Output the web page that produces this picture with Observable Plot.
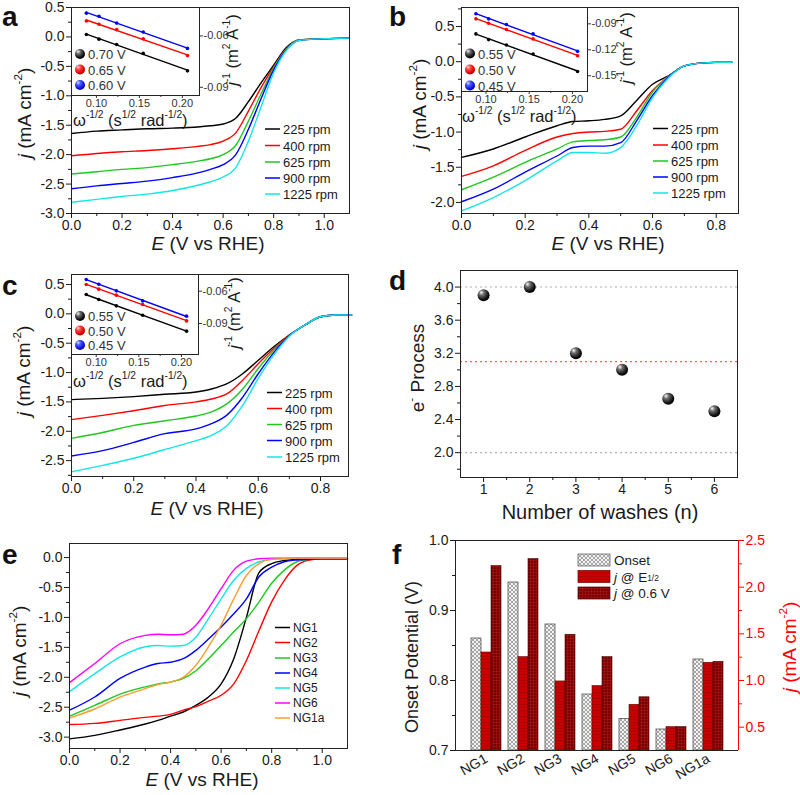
<!DOCTYPE html>
<html><head><meta charset="utf-8">
<script src="https://cdn.jsdelivr.net/npm/d3@7"></script>
<script src="https://cdn.jsdelivr.net/npm/@observablehq/plot@0.6"></script>
<style>
html,body{margin:0;padding:0;background:#fff;overflow:hidden;}
#root{position:relative;width:800px;height:795px;overflow:hidden;background:#fff;}
</style></head><body>
<svg width="0" height="0" style="position:absolute;left:0;top:0">
<defs>
<radialGradient id="ballK" cx="0.4" cy="0.35" r="0.7" fx="0.3" fy="0.25">
<stop offset="0" stop-color="#ffffff"/><stop offset="0.3" stop-color="#707070"/><stop offset="0.75" stop-color="#111"/><stop offset="1" stop-color="#000"/>
</radialGradient>
<radialGradient id="ballR" cx="0.4" cy="0.35" r="0.7" fx="0.3" fy="0.25">
<stop offset="0" stop-color="#ffe0e0"/><stop offset="0.3" stop-color="#ff5050"/><stop offset="0.75" stop-color="#e00000"/><stop offset="1" stop-color="#a00000"/>
</radialGradient>
<radialGradient id="ballB" cx="0.4" cy="0.35" r="0.7" fx="0.3" fy="0.25">
<stop offset="0" stop-color="#e0e4ff"/><stop offset="0.3" stop-color="#5060ff"/><stop offset="0.75" stop-color="#1010e0"/><stop offset="1" stop-color="#000090"/>
</radialGradient>
<pattern id="patOnset" width="4" height="4" patternUnits="userSpaceOnUse"><rect width="4" height="4" fill="#f2f2f2"/><path d="M0,0L4,4M4,0L0,4" stroke="#858585" stroke-width="0.7"/></pattern>
<pattern id="patHalf" width="3" height="3" patternUnits="userSpaceOnUse"><rect width="3" height="3" fill="#c80000"/><path d="M0,0.5H3" stroke="#a00000" stroke-width="0.6"/></pattern>
<pattern id="pat06" width="3" height="3" patternUnits="userSpaceOnUse"><rect width="3" height="3" fill="#7a0000"/><path d="M0,0.5H3M0.5,0V3" stroke="#a81818" stroke-width="0.6"/></pattern>
</defs></svg>
<div id="root"></div>
<script>
// ---------------- DATA ----------------
const rpmNames = ["225 rpm", "400 rpm", "625 rpm", "900 rpm", "1225 rpm"];
const rpmColors = ["#000000", "#ff0000", "#1ec81e", "#0000ff", "#14e6e6"];

// Panel a
const E_a = [0, 0.1, 0.2, 0.3, 0.4, 0.5, 0.55, 0.6, 0.65, 0.7, 0.75, 0.8, 0.85, 0.9, 1.0, 1.1];
const a225 = [-1.64, -1.60, -1.58, -1.56, -1.55, -1.53, -1.51, -1.48, -1.38, -1.10, -0.78, -0.48, -0.18, -0.05, -0.03, -0.02];
const a400 = [-2.02, -1.98, -1.95, -1.93, -1.90, -1.86, -1.83, -1.77, -1.63, -1.26, -0.86, -0.51, -0.20, -0.05, -0.03, -0.02];
const a625 = [-2.33, -2.29, -2.25, -2.22, -2.17, -2.11, -2.07, -2.00, -1.84, -1.43, -0.97, -0.53, -0.21, -0.05, -0.03, -0.02];
const a900 = [-2.58, -2.53, -2.49, -2.45, -2.39, -2.31, -2.25, -2.17, -2.00, -1.57, -1.05, -0.56, -0.22, -0.06, -0.03, -0.02];
const a1225 = [-2.81, -2.76, -2.71, -2.67, -2.61, -2.52, -2.46, -2.38, -2.22, -1.77, -1.19, -0.61, -0.23, -0.06, -0.03, -0.02];

// Panel b
const E_b = [0, 0.1, 0.2, 0.3, 0.35, 0.4, 0.45, 0.5, 0.55, 0.6, 0.65, 0.7, 0.75, 0.8, 0.85];
const b225 = [-1.36, -1.24, -1.07, -0.91, -0.85, -0.84, -0.82, -0.77, -0.55, -0.32, -0.20, -0.06, -0.02, -0.01, -0.01];
const b400 = [-1.63, -1.48, -1.26, -1.07, -1.02, -1.00, -0.99, -0.96, -0.70, -0.41, -0.21, -0.06, -0.02, -0.01, -0.01];
const b625 = [-1.82, -1.64, -1.43, -1.24, -1.14, -1.12, -1.11, -1.07, -0.79, -0.43, -0.21, -0.06, -0.02, -0.01, -0.01];
const b900 = [-1.99, -1.81, -1.57, -1.34, -1.22, -1.20, -1.20, -1.15, -0.84, -0.48, -0.22, -0.06, -0.02, -0.01, -0.01];
const b1225 = [-2.12, -1.93, -1.69, -1.41, -1.29, -1.29, -1.30, -1.22, -0.91, -0.51, -0.23, -0.06, -0.02, -0.01, -0.01];

// Panel c
const E_c = [0, 0.1, 0.2, 0.3, 0.4, 0.45, 0.5, 0.55, 0.6, 0.65, 0.7, 0.75, 0.8, 0.85, 0.9];
const c225 = [-1.46, -1.44, -1.41, -1.37, -1.33, -1.28, -1.19, -1.02, -0.79, -0.56, -0.36, -0.19, -0.05, -0.02, -0.02];
const c400 = [-1.80, -1.73, -1.65, -1.56, -1.50, -1.45, -1.36, -1.13, -0.85, -0.59, -0.36, -0.19, -0.05, -0.02, -0.02];
const c625 = [-2.12, -2.02, -1.90, -1.82, -1.74, -1.67, -1.53, -1.28, -0.93, -0.62, -0.37, -0.19, -0.05, -0.02, -0.02];
const c900 = [-2.42, -2.33, -2.19, -2.04, -1.96, -1.87, -1.72, -1.42, -1.02, -0.66, -0.37, -0.19, -0.05, -0.02, -0.02];
const c1225 = [-2.69, -2.58, -2.46, -2.31, -2.16, -2.07, -1.90, -1.56, -1.10, -0.70, -0.38, -0.19, -0.05, -0.02, -0.02];

// Koutecky-Levich insets
const omega = [0.0883, 0.1030, 0.1236, 0.1545, 0.2060];
const insAnames = ["0.70 V", "0.65 V", "0.60 V"];
const insA070 = [-0.0592, -0.0619, -0.0650, -0.0702, -0.0804];
const insA065 = [-0.0513, -0.0532, -0.0563, -0.0617, -0.0715];
const insA060 = [-0.0467, -0.0485, -0.0525, -0.0577, -0.0673];
const insBnames = ["0.55 V", "0.50 V", "0.45 V"];
const insB055 = [-0.1016, -0.1082, -0.1144, -0.1248, -0.1450];
const insB050 = [-0.0842, -0.0893, -0.0966, -0.1074, -0.1268];
const insB045 = [-0.0784, -0.0842, -0.0908, -0.1016, -0.1218];
const insCnames = ["0.55 V", "0.50 V", "0.45 V"];
const insC055 = [-0.0631, -0.0677, -0.0736, -0.0823, -0.0971];
const insC050 = [-0.0538, -0.0581, -0.0637, -0.0723, -0.0876];
const insC045 = [-0.0491, -0.0535, -0.0597, -0.0690, -0.0832];
const insColors = ["#000000", "#ff0000", "#0000ff"];
const insBalls = ["url(#ballK)", "url(#ballR)", "url(#ballB)"];

// Panel d
const washes = [1, 2, 3, 4, 5, 6];
const eProcess = [3.9, 4.0, 3.2, 3.0, 2.65, 2.5];
const dGrayRefs = [4.0, 2.0];
const dRedRefs = [3.1];

// Panel e
const ngNames = ["NG1", "NG2", "NG3", "NG4", "NG5", "NG6", "NG1a"];
const ngColors = ["#000000", "#ff0000", "#1ec81e", "#0000ff", "#14e6e6", "#ff00ff", "#f4a030"];
const E_e = [0, 0.1, 0.2, 0.3, 0.35, 0.4, 0.45, 0.5, 0.55, 0.6, 0.65, 0.7, 0.75, 0.8, 0.85, 0.9, 0.95, 1.0, 1.1];
const eNG1 = [-3.03, -2.97, -2.88, -2.78, -2.72, -2.65, -2.58, -2.47, -2.33, -2.11, -1.69, -1.00, -0.25, -0.10, -0.05, -0.03, -0.03, -0.02, -0.02];
const eNG2 = [-2.79, -2.77, -2.72, -2.67, -2.65, -2.62, -2.55, -2.49, -2.40, -2.30, -2.11, -1.72, -1.22, -0.74, -0.38, -0.13, -0.04, -0.02, -0.02];
const eNG3 = [-2.65, -2.47, -2.28, -2.16, -2.11, -2.08, -2.02, -1.89, -1.69, -1.47, -1.24, -1.02, -0.74, -0.43, -0.21, -0.07, -0.03, -0.02, -0.02];
const eNG4 = [-2.55, -2.33, -2.02, -1.83, -1.77, -1.75, -1.69, -1.55, -1.36, -1.16, -0.94, -0.69, -0.32, -0.16, -0.07, -0.04, -0.03, -0.02, -0.02];
const eNG5 = [-2.24, -1.94, -1.66, -1.49, -1.47, -1.48, -1.47, -1.33, -1.02, -0.69, -0.38, -0.18, -0.07, -0.03, -0.02, -0.01, -0.01, -0.01, -0.01];
const eNG6 = [-2.09, -1.77, -1.44, -1.30, -1.28, -1.29, -1.28, -1.13, -0.85, -0.52, -0.21, -0.06, -0.02, -0.01, -0.01, -0.01, -0.01, -0.01, -0.01];
const eNG1a = [-2.68, -2.53, -2.33, -2.19, -2.12, -2.08, -2.00, -1.80, -1.49, -1.13, -0.69, -0.30, -0.10, -0.03, -0.02, -0.01, -0.01, -0.01, -0.01];

// Panel f
const fSamples = ["NG1", "NG2", "NG3", "NG4", "NG5", "NG6", "NG1a"];
const fOnset = [0.86, 0.94, 0.88, 0.78, 0.745, 0.73, 0.83];
const fJHalf = [1.30, 1.25, 0.99, 0.94, 0.74, 0.50, 1.19];
const fJ06 = [2.225, 2.30, 1.49, 1.25, 0.82, 0.50, 1.20];
const fSlots = ["Onset", "Half", "V06"];
const fLeftDomain = [0.7, 1.0];
const fRightDomain = [0.25, 2.5];
const fLeftTicks = [0.7, 0.8, 0.9, 1.0];
const fLeftMinor = [0.75, 0.85, 0.95];
const fRightTicks = [0.5, 1.0, 1.5, 2.0, 2.5];
const fRightMinor = [0.75, 1.25, 1.75, 2.25];

// tick arrays
const xTicksA = [0, 0.2, 0.4, 0.6, 0.8, 1.0], xMinorA = [0.1, 0.3, 0.5, 0.7, 0.9];
const yTicksA = [-3.0, -2.5, -2.0, -1.5, -1.0, -0.5, 0.0, 0.5], yMinorA = [-2.75, -2.25, -1.75, -1.25, -0.75, -0.25, 0.25];
const xTicksB = [0, 0.2, 0.4, 0.6, 0.8], xMinorB = [0.1, 0.3, 0.5, 0.7];
const yTicksB = [-2.0, -1.5, -1.0, -0.5, 0.0, 0.5], yMinorB = [-1.75, -1.25, -0.75, -0.25, 0.25, 0.75];
const yTicksC = [-2.5, -2.0, -1.5, -1.0, -0.5, 0.0, 0.5], yMinorC = [-2.75, -2.25, -1.75, -1.25, -0.75, -0.25, 0.25];
const yTicksE = [-3.0, -2.5, -2.0, -1.5, -1.0, -0.5, 0.0], yMinorE = [-2.75, -2.25, -1.75, -1.25, -0.75, -0.25];
const dXTicks = [1, 2, 3, 4, 5, 6], dXMinor = [1.5, 2.5, 3.5, 4.5, 5.5];
const dYTicks = [2.0, 2.4, 2.8, 3.2, 3.6, 4.0], dYMinor = [1.8, 2.2, 2.6, 3.0, 3.4, 3.8];
const insXTicks = [0.10, 0.15, 0.20], insXMinor = [0.125, 0.175];

// ---------------- HELPERS ----------------
const FONT = '"Liberation Sans", Arial, Helvetica, sans-serif';
const root = document.getElementById("root");
function put(node, left, top) {
  node.style.position = "absolute"; node.style.left = left + "px"; node.style.top = top + "px";
  root.appendChild(node); return node;
}
function sty(fs, color = "#1a1a1a") {
  return {fontFamily: FONT, fontSize: fs + "px", color, background: "transparent", overflow: "visible"};
}
function tidy(xs, cols, names) {
  return cols.flatMap((ys, k) => ys.map((y, i) => ({x: xs[i], y, s: names[k]})));
}
const fmt1 = d => d.toFixed(1), fmt2 = d => d.toFixed(2), fmt0 = d => String(d), none = () => "";

function lsvPanel({left, top, m, xDomain, yDomain, xTicks, xMinor, yTicks, yMinor, data, names, colors}) {
  const p = Plot.plot({
    width: 400, height: 265, marginTop: m[0], marginRight: m[1], marginBottom: m[2], marginLeft: m[3],
    x: {domain: xDomain, label: null}, y: {domain: yDomain, label: null},
    color: {domain: names, range: colors},
    style: sty(14),
    marks: [
      Plot.line(data, {x: "x", y: "y", z: "s", stroke: "s", strokeWidth: 1.4, curve: "monotone-x"}),
      Plot.frame({stroke: "#222"}),
      Plot.axisX({ticks: xTicks, tickSize: 5, tickPadding: 2, tickFormat: fmt1, label: null}),
      Plot.axisX({ticks: xMinor, tickSize: 3, tickFormat: none, label: null}),
      Plot.axisY({ticks: yTicks, tickSize: 5, tickPadding: 2, tickFormat: fmt1, label: null}),
      Plot.axisY({ticks: yMinor, tickSize: 3, tickFormat: none, label: null})
    ]
  });
  put(p, left, top);
}

function insetPanel({left, top, m, xDomain, yDomain, yTicks, cols, names}) {
  const data = tidy(omega, cols, names);
  const p = Plot.plot({
    width: 260, height: 130, marginTop: m[0], marginRight: m[1], marginBottom: m[2], marginLeft: m[3],
    x: {domain: xDomain, label: null}, y: {domain: yDomain, label: null},
    color: {domain: names, range: insColors},
    style: sty(11, "#333"),
    marks: [
      Plot.frame({fill: "white", stroke: "#222"}),
      Plot.linearRegressionY(data, {x: "x", y: "y", stroke: "s", ci: 0, strokeWidth: 1.4}),
      Plot.dot(data, {x: "x", y: "y", fill: "s", r: 1.8}),
      Plot.axisX({ticks: insXTicks, tickFormat: fmt2, tickSize: 3, tickPadding: 1, label: null}),
      Plot.axisX({ticks: insXMinor, tickSize: 2, tickFormat: none, label: null}),
      Plot.axisY({anchor: "right", ticks: yTicks, tickFormat: fmt2, tickSize: 3, tickPadding: 1, label: null})
    ]
  });
  put(p, left, top);
}

// ---------------- PANELS ----------------
lsvPanel({left: 0, top: 0, m: [7, 51, 52, 71], xDomain: [0, 1.1], yDomain: [-3.0, 0.5],
  xTicks: xTicksA, xMinor: xMinorA, yTicks: yTicksA, yMinor: yMinorA,
  data: tidy(E_a, [a225, a400, a625, a900, a1225], rpmNames), names: rpmNames, colors: rpmColors});
insetPanel({left: 0, top: 0, m: [7, 61, 35, 71], xDomain: [0.071, 0.220], yDomain: [-0.0948, -0.0434],
  yTicks: [-0.06, -0.09], cols: [insA070, insA065, insA060], names: insAnames});

lsvPanel({left: 400, top: 0, m: [7, 62, 52, 61], xDomain: [0, 0.87], yDomain: [-2.157, 0.77],
  xTicks: xTicksB, xMinor: xMinorB, yTicks: yTicksB, yMinor: yMinorB,
  data: tidy(E_b, [b225, b400, b625, b900, b1225], rpmNames), names: rpmNames, colors: rpmColors});
insetPanel({left: 400, top: 0, m: [7, 73, 39, 61], xDomain: [0.0716, 0.2175], yDomain: [-0.1682, -0.0711],
  yTicks: [-0.09, -0.12, -0.15], cols: [insB055, insB050, insB045], names: insBnames});

lsvPanel({left: 0, top: 265, m: [9, 52, 54, 71], xDomain: [0, 0.89], yDomain: [-2.77, 0.67],
  xTicks: xTicksB, xMinor: xMinorB, yTicks: yTicksC, yMinor: yMinorC,
  data: tidy(E_c, [c225, c400, c625, c900, c1225], rpmNames), names: rpmNames, colors: rpmColors});
insetPanel({left: 0, top: 265, m: [9, 62, 41, 71], xDomain: [0.071, 0.220], yDomain: [-0.1188, -0.0445],
  yTicks: [-0.06, -0.09], cols: [insC055, insC050, insC045], names: insCnames});

// d
{
  const data = washes.map((n, i) => ({n, e: eProcess[i]}));
  const p = Plot.plot({
    width: 400, height: 265, marginTop: 5, marginRight: 63, marginBottom: 53, marginLeft: 60,
    x: {domain: [0.5, 6.5], label: null}, y: {domain: [1.7, 4.2], label: null},
    style: sty(14),
    marks: [
      Plot.ruleY(dGrayRefs, {stroke: "#b0b0b0", strokeDasharray: "2,3", strokeWidth: 1.1}),
      Plot.ruleY(dRedRefs, {stroke: "#ff5a5a", strokeDasharray: "2,3", strokeWidth: 1.1}),
      Plot.dot(data, {x: "n", y: "e", r: 6, fill: "url(#ballK)"}),
      Plot.frame({stroke: "#222"}),
      Plot.axisX({ticks: dXTicks, tickSize: 5, tickPadding: 2, tickFormat: fmt0, label: null}),
      Plot.axisX({ticks: dXMinor, tickSize: 3, tickFormat: none, label: null}),
      Plot.axisY({ticks: dYTicks, tickSize: 5, tickPadding: 2, tickFormat: fmt1, label: null}),
      Plot.axisY({ticks: dYMinor, tickSize: 3, tickFormat: none, label: null})
    ]
  });
  put(p, 400, 265);
}

// e
lsvPanel({left: 0, top: 530, m: [13, 53, 47, 69], xDomain: [0, 1.1], yDomain: [-3.19, 0.235],
  xTicks: xTicksA, xMinor: xMinorA, yTicks: yTicksE, yMinor: yMinorE,
  data: tidy(E_e, [eNG1, eNG2, eNG3, eNG4, eNG5, eNG6, eNG1a], ngNames), names: ngNames, colors: ngColors});

// f
{
  const M = {width: 400, height: 265, marginTop: 10, marginRight: 62, marginBottom: 45, marginLeft: 55};
  const fx = {domain: fSamples, paddingInner: 0.146, paddingOuter: 0.316, label: null};
  const x = {domain: fSlots, padding: 0, axis: null, label: null};
  const onsetRows = fSamples.map((g, i) => ({g, k: "Onset", v: fOnset[i]}));
  const halfRows = fSamples.map((g, i) => ({g, k: "Half", v: fJHalf[i]}));
  const v06Rows = fSamples.map((g, i) => ({g, k: "V06", v: fJ06[i]}));
  const p1 = Plot.plot({...M, fx, x, y: {domain: fLeftDomain, axis: null, label: null}, style: sty(14),
    marks: [
      Plot.barY(onsetRows, {fx: "g", x: "k", y1: fLeftDomain[0], y2: "v", fill: "url(#patOnset)", stroke: "#555", strokeWidth: 0.8}),
      Plot.axisFx({anchor: "bottom", tickRotate: -30, tickSize: 0, tickPadding: 7, label: null})
    ]});
  put(p1, 400, 530);
  const p2 = Plot.plot({...M, fx: {...fx, axis: null}, x, y: {domain: fRightDomain, axis: null, label: null}, style: sty(14),
    marks: [
      Plot.barY(halfRows, {fx: "g", x: "k", y1: fRightDomain[0], y2: "v", fill: "url(#patHalf)", stroke: "#700000", strokeWidth: 0.6}),
      Plot.barY(v06Rows, {fx: "g", x: "k", y1: fRightDomain[0], y2: "v", fill: "url(#pat06)", stroke: "#400000", strokeWidth: 0.6})
    ]});
  put(p2, 400, 530);
  const p3 = Plot.plot({...M, x: {domain: [0, 1], axis: null}, y: {domain: fLeftDomain, label: null}, style: sty(14),
    marks: [
      Plot.ruleY(fLeftDomain, {stroke: "#222"}),
      Plot.ruleX([0], {stroke: "#222"}),
      Plot.axisY({ticks: fLeftTicks, tickSize: 5, tickPadding: 2, tickFormat: fmt1, label: null}),
      Plot.axisY({ticks: fLeftMinor, tickSize: 3, tickFormat: none, label: null})
    ]});
  put(p3, 400, 530);
  const p4 = Plot.plot({...M, x: {domain: [0, 1], axis: null}, y: {domain: fRightDomain, label: null}, style: sty(14, "#ff0000"),
    marks: [
      Plot.ruleX([1], {stroke: "#ff0000"}),
      Plot.axisY({anchor: "right", ticks: fRightTicks, tickSize: 5, tickPadding: 2, tickFormat: fmt1, label: null}),
      Plot.axisY({anchor: "right", ticks: fRightMinor, tickSize: 3, tickFormat: none, label: null})
    ]});
  put(p4, 400, 530);
}

// ---------------- ANNOTATIONS (titles, legends, panel letters) ----------------
const ov = d3.create("svg").attr("width", 800).attr("height", 795).style("overflow", "visible");
put(ov.node(), 0, 0);
function rtext(x, y, parts, {size = 19, anchor = "middle", rotate = 0, fill = "#1a1a1a", family = FONT, weight = null, baseline = "central"} = {}) {
  const t = ov.append("text").attr("transform", `translate(${x},${y}) rotate(${rotate})`)
    .attr("text-anchor", anchor).attr("dominant-baseline", baseline)
    .attr("font-size", size).attr("font-family", family).attr("fill", fill);
  if (weight) t.attr("font-weight", weight);
  for (const p of parts) {
    if (typeof p === "string") { t.append("tspan").text(p); continue; }
    const s = t.append("tspan").text(p.t);
    if (p.i) s.attr("font-style", "italic");
    if (p.sup) s.attr("baseline-shift", "super").attr("font-size", size * 0.62);
    if (p.sub) s.attr("baseline-shift", "-15%").attr("font-size", size * 0.62);
  }
  return t;
}
const jTitle = [{t: "j", i: true}, " (mA cm", {t: "-2", sup: true}, ")"];
const eTitle = [{t: "E", i: true}, " (V vs RHE)"];
const omTitle = ["ω", {t: "-1/2", sup: true}, " (s", {t: "1/2", sup: true}, " rad", {t: "-1/2", sup: true}, ")"];
const jInvTitle = [{t: "j", i: true}, {t: "-1", sup: true}, " (m", {t: "2", sup: true}, " A", {t: "-1", sup: true}, ")"];

// panel letters
const letters = [["a", 2, 26], ["b", 389, 26], ["c", 2, 295], ["d", 389, 290], ["e", 2, 564], ["f", 392, 564]];
for (const [l, x, y] of letters) rtext(x, y, [l], {size: 28, anchor: "start", weight: 700, baseline: "alphabetic", fill: "#111"});

// axis titles
rtext(208, 243, eTitle); rtext(608, 243, eTitle);
rtext(207, 508, eTitle); rtext(600, 512, ["Number of washes (n)"], {size: 20}); rtext(202, 779, eTitle);
rtext(24, 113, jTitle, {rotate: -90}); rtext(419, 104, jTitle, {rotate: -90});
rtext(23, 371, jTitle, {rotate: -90}); rtext(417, 368, ["e", {t: "-", sup: true}, " Process"], {rotate: -90});
rtext(19, 651, jTitle, {rotate: -90});
rtext(412, 657, ["Onset Potential (V)"], {rotate: -90, size: 18});
rtext(789, 647, jTitle, {rotate: -90, fill: "#ff0000"});

// inset titles
rtext(73, 120, omTitle, {size: 16.5, anchor: "start"});
rtext(232, 50, jInvTitle, {size: 16.5, rotate: -90});
rtext(462, 116, omTitle, {size: 16.5, anchor: "start"});
rtext(626, 48, jInvTitle, {size: 16.5, rotate: -90});
rtext(73, 381, omTitle, {size: 16.5, anchor: "start"});
rtext(234, 313, jInvTitle, {size: 16.5, rotate: -90});

// line legends
function lineLegend(x0, ys, names, colors, size) {
  names.forEach((n, i) => {
    ov.append("line").attr("x1", x0).attr("x2", x0 + 15).attr("y1", ys[i]).attr("y2", ys[i]).attr("stroke", colors[i]).attr("stroke-width", 1.5);
    rtext(x0 + 18, ys[i], [n], {size, anchor: "start"});
  });
}
lineLegend(265, [129, 145.5, 162, 178, 194], rpmNames, rpmColors, 13);
lineLegend(653, [128.5, 145, 161, 177, 193], rpmNames, rpmColors, 13);
lineLegend(267, [392.5, 408.5, 424.5, 440.5, 457], rpmNames, rpmColors, 13);
lineLegend(275, [627.5, 642.5, 658, 673, 688, 703, 718], ngNames, ngColors, 12);

// ball legends in insets
function ballLegend(x, ys, names) {
  names.forEach((n, i) => {
    ov.append("circle").attr("cx", x).attr("cy", ys[i]).attr("r", 5).attr("fill", insBalls[i]);
    rtext(x + 8, ys[i], [n], {size: 13, anchor: "start", fill: "#333"});
  });
}
ballLegend(80, [54, 69.5, 85], insAnames);
ballLegend(470, [53.5, 69.5, 85.5], insBnames);
ballLegend(80, [316, 330.5, 345], insCnames);

// f legend
const fLegend = [["url(#patOnset)", "#555", ["Onset"]], ["url(#patHalf)", "#700000", [{t: "j", i: true}, " @ E", {t: "1/2", sub: true}]], ["url(#pat06)", "#400000", [{t: "j", i: true}, " @ 0.6 V"]]];
const fLegendY = [560, 576.5, 593];
fLegend.forEach(([fill, stroke, parts], i) => {
  const y = fLegendY[i];
  ov.append("rect").attr("x", 578).attr("y", y - 6).attr("width", 32).attr("height", 12).attr("fill", fill).attr("stroke", stroke).attr("stroke-width", 0.7);
  rtext(614, y, parts, {size: 13.5, anchor: "start"});
});
</script></body></html>
